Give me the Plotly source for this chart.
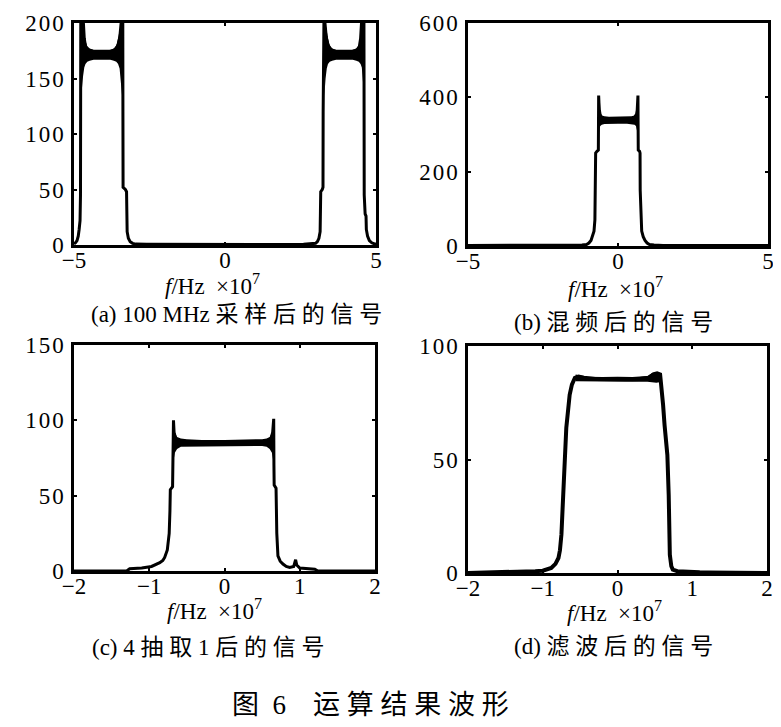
#!/usr/bin/env python3
#coding:utf-8

#installed library
import plotly.graph_objects as go

# frequencies are in units of 1e7 Hz, as on the printed axes

# (a) 100 MHz sampled signal
a_x = [-5.00, -4.95, -4.90, -4.86, -4.83, -4.80, -4.785, -4.78, -4.775, -4.72,
       -4.69, -4.66, -4.62, -4.55, -4.45, -4.30, -4.10, -3.90, -3.70, -3.60,
       -3.53, -3.48, -3.44, -3.41, -3.385, -3.38, -3.375, -3.30, -3.26, -3.25,
       -3.24, -3.20, -3.14, -3.06, -2.95, -2.60, -2.00, -1.00, 0.00, 1.00,
       2.00, 2.60, 3.00, 3.06, 3.11, 3.15, 3.16, 3.17, 3.22, 3.245,
       3.25, 3.255, 3.28, 3.31, 3.35, 3.40, 3.47, 3.57, 3.75, 3.95,
       4.15, 4.30, 4.38, 4.45, 4.49, 4.52, 4.55, 4.60, 4.605, 4.61,
       4.64, 4.67, 4.68, 4.72, 4.78, 4.86, 4.95, 5.00]
a_y = [1, 2, 4, 8, 14, 22, 45, 120, 215, 215,
       200, 186, 179, 176, 175, 174, 174, 174, 175, 177,
       181, 188, 200, 215, 215, 120, 52, 50, 48, 30,
       12, 6, 3, 1.5, 0.8, 0.6, 0.5, 0.5, 0.6, 0.5,
       0.5, 0.6, 1.5, 3, 6, 12, 30, 48, 50, 52,
       120, 215, 215, 200, 188, 181, 177, 175, 174, 174,
       174, 175, 176, 179, 186, 200, 215, 215, 120, 45,
       28, 26, 14, 8, 4, 2, 1, 1]
# ripple band on the two pass bands
a_band1_x = [-4.74, -4.70, -4.66, -4.62, -4.56, -4.48, -4.35, -4.15, -3.95, -3.80,
             -3.68, -3.60, -3.54, -3.49, -3.45, -3.41]
a_band1_hi = [205, 200, 192, 184, 179, 177, 176, 176, 176, 176,
              177, 180, 186, 193, 200, 205]
a_band1_lo = [140, 152, 160, 163, 165, 166, 167, 167, 167, 167,
              166, 165, 163, 159, 150, 135]
a_band2_x = [3.29, 3.33, 3.37, 3.41, 3.47, 3.55, 3.68, 3.88, 4.08, 4.23,
             4.35, 4.43, 4.49, 4.53, 4.56, 4.59]
a_band2_hi = [205, 200, 193, 186, 180, 177, 176, 176, 176, 176,
              177, 179, 184, 192, 200, 205]
a_band2_lo = [135, 150, 159, 163, 165, 166, 167, 167, 167, 167,
              166, 165, 163, 160, 152, 140]

# (b) after mixing
b_x = [-5.0, -3.0, -1.5, -1.2, -1.05, -0.97, -0.90, -0.85, -0.80, -0.77,
       -0.75, -0.745, -0.70, -0.655, -0.65, -0.645, -0.635, -0.62, -0.60, -0.55,
       -0.45, -0.30, 0.00, 0.30, 0.45, 0.55, 0.62, 0.64, 0.655, 0.665,
       0.67, 0.675, 0.72, 0.735, 0.74, 0.76, 0.79, 0.84, 0.90, 0.97,
       1.05, 1.2, 1.5, 3.0, 5.0]
b_y = [1.5, 1.5, 1.5, 2.5, 4, 8, 15, 25, 40, 70,
       150, 250, 255, 258, 330, 405, 385, 365, 355, 345,
       341, 339, 339, 339, 341, 345, 355, 365, 385, 405,
       330, 258, 255, 250, 150, 70, 40, 25, 15, 8,
       4, 2.5, 1.5, 1.5, 1.5]
b_band_x = [-0.64, -0.62, -0.59, -0.54, -0.45, -0.30, 0.00, 0.30, 0.45, 0.55,
            0.60, 0.63, 0.66]
b_band_hi = [385, 366, 356, 351, 349, 348, 348, 348, 349, 351,
             356, 366, 385]
b_band_lo = [300, 316, 323, 326, 328, 329, 329, 329, 328, 326,
             323, 316, 300]

# (c) after 4:1 decimation
c_x = [-2.0, -1.3, -1.26, -1.1, -0.97, -0.90, -0.86, -0.82, -0.795, -0.76,
       -0.735, -0.725, -0.72, -0.69, -0.686, -0.684, -0.678, -0.67, -0.65, -0.60,
       -0.50, -0.30, 0.00, 0.30, 0.50, 0.58, 0.62, 0.64, 0.648, 0.654,
       0.657, 0.66, 0.685, 0.688, 0.695, 0.71, 0.74, 0.777, 0.82, 0.866,
       0.92, 0.945, 0.96, 1.0, 1.1, 1.2, 1.24, 2.0]
c_y = [0, 0, 1.5, 2, 3, 4.5, 5.5, 7, 9, 14,
       25, 40, 54, 56, 70, 100, 100, 92, 88, 86,
       85, 85, 85, 85, 85.5, 86.5, 88, 92, 101, 101,
       70, 57, 55, 40, 25, 10, 6.5, 4.6, 3, 2.3,
       3, 7.5, 4, 2, 1.5, 1.2, 0, 0]
c_band_x = [-0.675, -0.66, -0.63, -0.58, -0.50, -0.30, 0.00, 0.30, 0.50, 0.56,
            0.60, 0.63, 0.645]
c_band_hi = [96, 92, 89, 88, 87.5, 87, 87, 87, 87.5, 88,
             89, 92, 96]
c_band_lo = [74, 78.5, 81, 82.5, 83, 83, 83, 83, 83, 82.5,
             81, 78.5, 74]

# (d) after filtering
d_x = [-2.0, -1.29, -1.2, -1.1, -1.0, -0.94, -0.886, -0.83, -0.79, -0.77,
       -0.75, -0.735, -0.72, -0.70, -0.685, -0.66, -0.64, -0.61, -0.57, -0.52,
       -0.45, -0.30, -0.10, 0.00, 0.10, 0.30, 0.42, 0.48, 0.53, 0.57,
       0.587, 0.61, 0.63, 0.65, 0.667, 0.685, 0.695, 0.70, 0.72, 0.74,
       0.80, 0.90, 1.00, 1.10, 1.21, 2.0]
d_y = [0, 0.3, 0.6, 0.8, 1.0, 1.5, 2.2, 4, 6.6, 10,
       17, 28, 42, 52, 64, 72, 78.5, 83, 86, 86.5,
       86, 85.5, 85.3, 85.5, 85.3, 85.5, 86, 87.5, 88, 87.5,
       83, 74, 65, 58, 52, 34.5, 20, 8, 3, 1.5,
       0.8, 0.5, 0.4, 0.3, 0.2, 0]
d_band_x = [-0.56, -0.50, -0.40, -0.20, 0.00, 0.20, 0.40, 0.46, 0.52, 0.56]
d_band_hi = [87.5, 87, 86.5, 86.3, 86.5, 86.3, 86.8, 88, 88.5, 88]
d_band_lo = [84.5, 84.5, 84.3, 84.2, 84.3, 84.2, 84.3, 84.0, 83.8, 84]

# tick values
ab_xticks = [-5, 0, 5]
cd_xticks = [-2, -1, 0, 1, 2]
a_yticks = [0, 50, 100, 150, 200]
b_yticks = [0, 200, 400, 600]
c_yticks = [0, 50, 100, 150]
d_yticks = [0, 50, 100]

# texts
xlabel = "<i>f</i>/Hz\u2002×10<sup>7</sup>"
subtitles = ["(a) 100 MHz 采 样 后 的 信 号",
             "(b) 混 频 后 的 信 号",
             "(c) 4 抽 取 1 后 的 信 号",
             "(d) 滤 波 后 的 信 号"]
caption = "图\u20026\u2003运 算 结 果 波 形"

W, H = 781, 727
SERIF = "Liberation Serif, Noto Sans CJK SC, serif"


def tick_text(vals):
    """print-like tick labels, digits slightly spread"""
    out = []
    for v in vals:
        s = "\u200a".join(str(abs(v)))
        if v < 0:
            s = "\u2212" + s
        out.append(s)
    return out


def px_box(left, top, right, bottom):
    """pixel box of the plot frame -> paper domains"""
    return [left / W, right / W], [1 - bottom / H, 1 - top / H]


def add_band(fig, x, hi, lo, xa, ya):
    fig.add_trace(go.Scatter(x=x + x[::-1], y=hi + lo[::-1], fill="toself",
                             fillcolor="black", mode="lines", line=dict(width=0),
                             xaxis=xa, yaxis=ya, hoverinfo="skip"))


def main():
    fig = go.Figure()
    panels = [
        ("x", "y", a_x, a_y, [(a_band1_x, a_band1_hi, a_band1_lo), (a_band2_x, a_band2_hi, a_band2_lo)], 3),
        ("x2", "y2", b_x, b_y, [(b_band_x, b_band_hi, b_band_lo)], 3),
        ("x3", "y3", c_x, c_y, [(c_band_x, c_band_hi, c_band_lo)], 3),
        ("x4", "y4", d_x, d_y, [(d_band_x, d_band_hi, d_band_lo)], 4),
    ]
    for xa, ya, x, y, bands, lw in panels:
        for bx, bhi, blo in bands:
            add_band(fig, bx, bhi, blo, xa, ya)
        fig.add_trace(go.Scatter(x=x, y=y, mode="lines", xaxis=xa, yaxis=ya,
                                 line=dict(color="black", width=lw)))

    axis = dict(showline=True, linecolor="black", linewidth=2.5, mirror="ticks",
                ticks="inside", ticklen=3, tickwidth=1.5, tickcolor="black",
                showgrid=False, zeroline=False, automargin=False,
                tickfont=dict(family=SERIF, size=23, color="black"))

    boxes = [px_box(66, 15, 368, 237), px_box(460, 15, 760, 238),
             px_box(66, 337, 367, 563), px_box(460, 338, 759, 565)]
    xranges = [[-5, 5], [-5, 5], [-2, 2], [-2, 2]]
    yranges = [[0, 200], [0, 600], [0, 150], [0, 100]]
    xticks = [ab_xticks, ab_xticks, cd_xticks, cd_xticks]
    yticks = [a_yticks, b_yticks, c_yticks, d_yticks]
    lay = {}
    for i in range(4):
        n = "" if i == 0 else str(i + 1)
        dx, dy = boxes[i]
        lay["xaxis" + n] = dict(axis, domain=dx, range=xranges[i], anchor="y" + n,
                                tickvals=xticks[i], ticktext=tick_text(xticks[i]),
                                ticklabelstandoff=-7)
        lay["yaxis" + n] = dict(axis, domain=dy, range=yranges[i], anchor="x" + n,
                                tickvals=yticks[i], ticktext=tick_text(yticks[i]),
                                ticklabelstandoff=3)

    # label positions in pixels (centre)
    xlab_pos = [(205, 276), (607, 279), (207, 601), (606, 603)]
    sub_pos = [(228, 306), (605, 315), (200, 639), (605, 638)]
    ann = []
    for (lx, ly), (sx, sy), sub in zip(xlab_pos, sub_pos, subtitles):
        ann.append(dict(text=xlabel, x=lx / W, y=1 - ly / H, xref="paper", yref="paper",
                        showarrow=False, xanchor="center", yanchor="middle",
                        font=dict(family=SERIF, size=23, color="black")))
        ann.append(dict(text=sub, x=sx / W, y=1 - sy / H, xref="paper", yref="paper",
                        showarrow=False, xanchor="center", yanchor="middle",
                        font=dict(family=SERIF, size=23, color="black")))
    ann.append(dict(text=caption, x=362 / W, y=1 - 697 / H, xref="paper", yref="paper",
                    showarrow=False, xanchor="center", yanchor="middle",
                    font=dict(family=SERIF, size=27, color="black")))

    fig.update_layout(width=W, height=H, margin=dict(l=0, r=0, t=0, b=0),
                      paper_bgcolor="white", plot_bgcolor="white",
                      showlegend=False, annotations=ann, **lay)
    fig.write_html("out.html")


if __name__ == "__main__":
    main()
